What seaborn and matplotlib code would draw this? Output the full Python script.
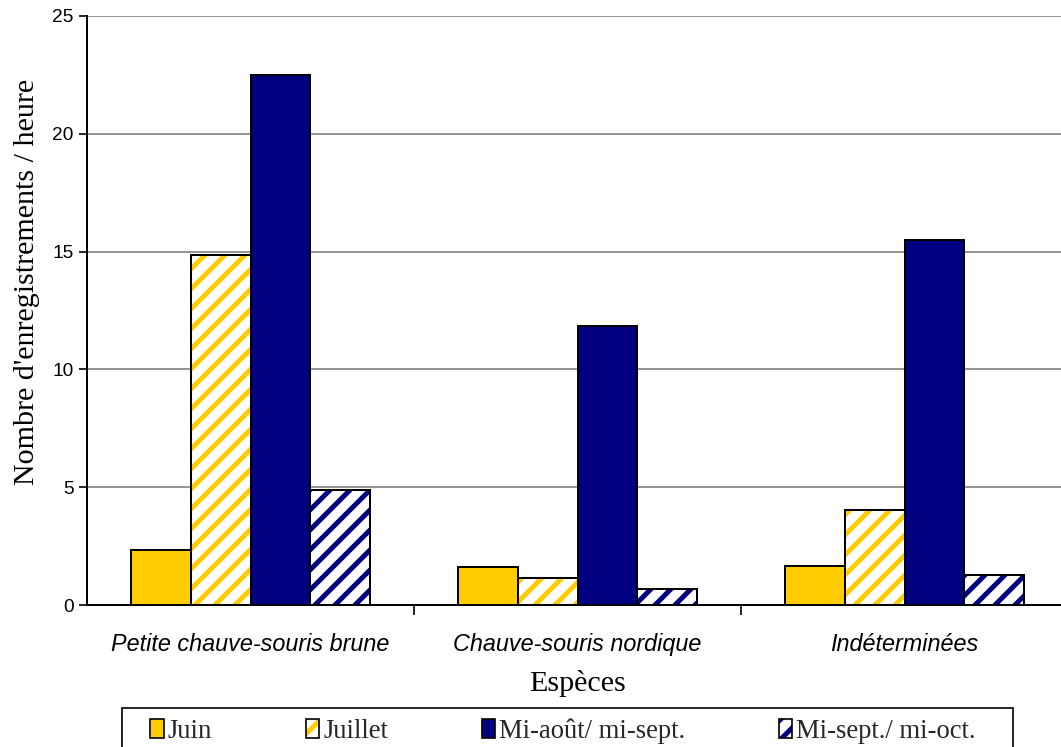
import matplotlib
matplotlib.use("Agg")
import matplotlib.pyplot as plt
from matplotlib.patches import Patch, Rectangle
from matplotlib.legend_handler import HandlerTuple
import seaborn as sns
import pandas as pd

especes = ["Petite chauve-souris brune", "Chauve-souris nordique", "Indéterminées"]
periodes = ["Juin", "Juillet", "Mi-août/ mi-sept.", "Mi-sept./ mi-oct."]
juin = [2.33, 1.62, 1.66]
juillet = [14.86, 1.15, 4.03]
mi_aout_mi_sept = [22.5, 11.84, 15.5]
mi_sept_mi_oct = [4.88, 0.68, 1.27]
yticks = [0, 5, 10, 15, 20, 25]

JAUNE = "#FFCC00"
MARINE = "#000080"
couleurs = [JAUNE, JAUNE, MARINE, MARINE]
hachures = [None, "//", None, "//"]

sns.set_theme(style="white")
plt.rcParams["hatch.linewidth"] = 3.0
plt.rcParams["font.family"] = ["Liberation Sans", "DejaVu Sans"]

df = pd.DataFrame({
    "Espèce": especes * 4,
    "Période": [p for p in periodes for _ in especes],
    "Valeur": juin + juillet + mi_aout_mi_sept + mi_sept_mi_oct,
})

W, H = 1061, 747
fig = plt.figure(figsize=(W / 120, H / 120), dpi=120)
ax = fig.add_axes([87 / W, 1 - 605 / H, 981 / W, (605 - 16) / H])

sns.barplot(data=df, x="Espèce", y="Valeur", hue="Période", order=especes,
            hue_order=periodes, palette=couleurs, width=0.73, ax=ax,
            edgecolor="black", linewidth=1.2, saturation=1, legend=False,
            errorbar=None)

# Hatched series: white fill with coloured stripes, then a black outline on top
for i, (coul, hach) in enumerate(zip(couleurs, hachures)):
    for barre in ax.containers[i]:
        if hach:
            barre.set_facecolor("white")
            barre.set_edgecolor(coul)
            barre.set_hatch(hach)
            barre.set_linewidth(0)
            ax.add_patch(Rectangle((barre.get_x(), barre.get_y()), barre.get_width(),
                                   barre.get_height(), fill=False, edgecolor="black",
                                   linewidth=1.2, zorder=barre.get_zorder() + 0.1))

ax.set_xlim(-0.5, 2.5)
ax.set_ylim(0, 25)
ax.set_yticks(yticks)
ax.yaxis.grid(True, color="#808080", linewidth=1.0)
ax.set_axisbelow(True)
for s in ["top", "right"]:
    ax.spines[s].set_visible(False)
for s in ["left", "bottom"]:
    ax.spines[s].set_color("black")
    ax.spines[s].set_linewidth(1.2)

ax.tick_params(axis="y", which="major", left=True, length=5, width=1, color="black",
               labelsize=11.5, pad=3)
ax.tick_params(axis="x", which="major", bottom=False, labelsize=14, pad=11)
ax.set_xticks([0.5, 1.5], minor=True)
ax.tick_params(axis="x", which="minor", bottom=True, length=6, width=1, color="black")
for lab in ax.get_xticklabels():
    lab.set_fontstyle("italic")
    lab.set_color("black")
for lab in ax.get_yticklabels():
    lab.set_color("black")

serif = ["Liberation Serif", "DejaVu Serif"]
ax.set_ylabel("Nombre d'enregistrements / heure", family=serif, fontsize=18, color="black")
ax.yaxis.set_label_coords(-0.048, 0.548)
ax.set_xlabel("Espèces", family=serif, fontsize=18, color="black", labelpad=8)

poignees = []
for c, h in zip(couleurs, hachures):
    if h:
        poignees.append((Patch(facecolor="white", edgecolor=c, hatch=h, linewidth=0),
                         Patch(fill=False, edgecolor="black", linewidth=1.0)))
    else:
        poignees.append(Patch(facecolor=c, edgecolor="black", linewidth=1.0))

# Legend entries spread across the bottom, inside a wider square box
leg = fig.legend(poignees, periodes, loc="lower left", ncol=4, mode="expand",
                 bbox_to_anchor=(141 / W, -0.008, (985 - 141) / W, 0.082),
                 borderaxespad=0, frameon=False,
                 handlelength=0.5, handleheight=0.75, handletextpad=0.15, borderpad=0.35,
                 handler_map={tuple: HandlerTuple(ndivide=1)},
                 prop={"family": serif, "size": 16})
fig.patches.append(Rectangle((122 / W, -0.02), (1013 - 122) / W, 0.02 + 1 - 708 / H,
                             transform=fig.transFigure, fill=False, edgecolor="black",
                             linewidth=1.0, figure=fig))

fig.savefig("out.png", dpi=120)
